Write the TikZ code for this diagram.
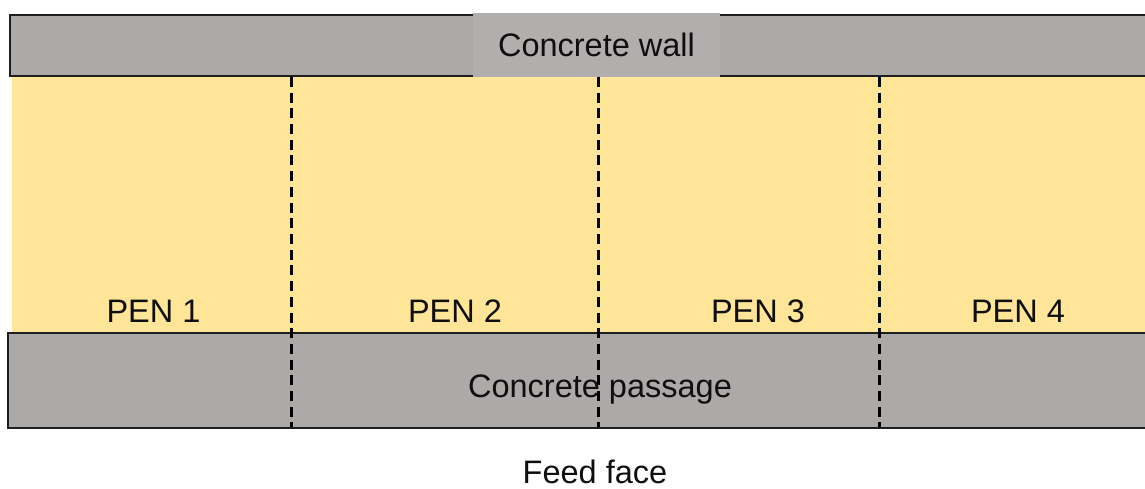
\documentclass[tikz,border=0pt]{standalone}
\usepackage{fontspec}
\setmainfont{Liberation Sans}
\definecolor{concrete}{RGB}{173,169,168}
\definecolor{concretelight}{RGB}{178,174,173}
\definecolor{straw}{RGB}{254,229,151}
\definecolor{edge}{RGB}{30,30,30}
\definecolor{ink}{RGB}{15,15,15}
\tikzset{
  slab/.style={fill=concrete, draw=edge, line width=2.5pt},
  divider/.style={draw=black, line width=3pt, dash pattern=on 10pt off 5.7pt},
  lbl/.style={anchor=base, inner sep=0pt, text=ink, font=\fontsize{32.5}{38}\selectfont},
}
\begin{document}
\begin{tikzpicture}[x=1pt, y=-1pt]
  \useasboundingbox (0,0) rectangle (1145,489);
  % pen floor
  \fill[straw] (12,76) rectangle (1160,333);
  % back wall with its label patch
  \draw[slab] (1160,15) -- (10,15) -- (10,76) -- (1160,76);
  \fill[concretelight] (473,13.5) rectangle (720,77.5);
  \node[lbl] (wall) at (596.5,57) {Concrete wall};
  % feed passage
  \draw[slab] (1160,333) -- (8,333) -- (8,428) -- (1160,428);
  \node[lbl] (passage) at (600,397) {Concrete passage};
  % pen dividers
  \coordinate (d1t) at (291,77);  \coordinate (d1b) at (291,427);
  \coordinate (d2t) at (598,77);  \coordinate (d2b) at (598,427);
  \coordinate (d3t) at (879,77);  \coordinate (d3b) at (879,427);
  \draw[divider] (d1t) -- (d1b);
  \draw[divider] (d2t) -- (d2b);
  \draw[divider] (d3t) -- (d3b);
  % pen names
  \node[lbl] (pen1) at (153.5,322) {PEN 1};
  \node[lbl] (pen2) at (455,322) {PEN 2};
  \node[lbl] (pen3) at (758,322) {PEN 3};
  \node[lbl] (pen4) at (1018,322) {PEN 4};
  \node[lbl] (feed) at (595,483) {Feed face};
\end{tikzpicture}
\end{document}
